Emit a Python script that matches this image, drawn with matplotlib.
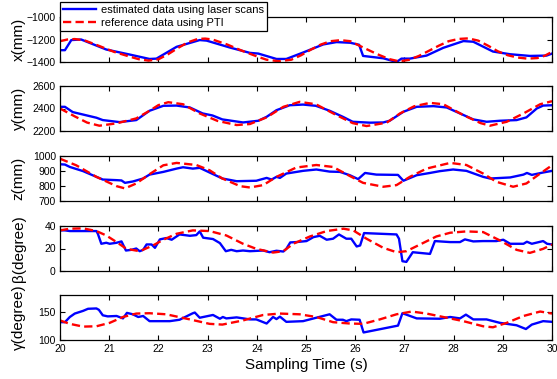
import matplotlib
matplotlib.use("Agg")
import matplotlib.pyplot as plt

plt.rcParams["font.family"] = ["Liberation Sans", "DejaVu Sans"]

# x position (mm)
t_x_est = [20.0, 20.1, 20.23, 20.43, 20.94, 21.42, 21.82, 21.96, 22.37, 22.84, 22.98, 23.45,
           23.86, 24.03, 24.4, 24.6, 24.94, 25.35, 25.62, 25.9, 26.08, 26.16, 26.57, 26.84,
           26.94, 27.11, 27.45, 27.79, 28.2, 28.4, 28.8, 29.15, 29.55, 29.89, 30.0]
x_est = [-1295, -1295, -1205, -1200, -1289, -1334, -1373, -1370, -1265, -1205, -1210, -1271,
         -1319, -1325, -1373, -1373, -1316, -1244, -1223, -1229, -1247, -1346, -1367, -1400,
         -1370, -1370, -1343, -1274, -1214, -1220, -1307, -1331, -1346, -1343, -1325]
t_x_ref = [20.0, 20.15, 20.3, 20.5, 20.8, 21.1, 21.4, 21.6, 21.8, 22.0, 22.2, 22.4, 22.6, 22.8,
           22.95, 23.1, 23.4, 23.7, 24.0, 24.2, 24.45, 24.7, 24.9, 25.1, 25.3, 25.5, 25.7, 25.9,
           26.1, 26.3, 26.5, 26.7, 26.9, 27.1, 27.3, 27.5, 27.7, 27.9, 28.1, 28.3, 28.5, 28.7,
           28.9, 29.1, 29.3, 29.5, 29.7, 29.85, 30.0]
x_ref = [-1215, -1200, -1196, -1208, -1258, -1310, -1350, -1375, -1388, -1376, -1330, -1275,
         -1225, -1195, -1192, -1200, -1245, -1300, -1350, -1380, -1393, -1380, -1340, -1290,
         -1245, -1215, -1206, -1215, -1258, -1300, -1340, -1375, -1395, -1380, -1345, -1300,
         -1255, -1215, -1195, -1190, -1210, -1255, -1305, -1340, -1360, -1370, -1365, -1345, -1310]

# y position (mm)
t_y_est = [20.0, 20.1, 20.26, 20.74, 20.87, 21.21, 21.55, 21.82, 22.1, 22.37, 22.64, 22.9, 23.1,
           23.3, 23.72, 24.03, 24.2, 24.4, 24.67, 24.94, 25.2, 25.48, 25.75, 25.95, 26.3, 26.57,
           26.7, 26.98, 27.25, 27.59, 27.86, 28.13, 28.4, 28.67, 28.94, 29.28, 29.48, 29.69,
           29.82, 30.0]
y_est = [2415, 2415, 2368, 2318, 2297, 2279, 2297, 2380, 2424, 2426, 2409, 2356, 2338, 2303,
         2276, 2291, 2326, 2385, 2429, 2435, 2424, 2380, 2326, 2282, 2274, 2276, 2291, 2371,
         2415, 2421, 2409, 2356, 2303, 2282, 2291, 2297, 2321, 2400, 2426, 2429]
t_y_ref = [20.0, 20.3, 20.55, 20.8, 21.15, 21.55, 21.82, 22.0, 22.2, 22.5, 22.84, 23.2, 23.59,
           23.86, 24.2, 24.54, 24.87, 25.2, 25.62, 25.95, 26.23, 26.64, 26.91, 27.2, 27.52,
           27.79, 28.2, 28.55, 28.74, 29.08, 29.42, 29.76, 30.0]
y_ref = [2400, 2330, 2275, 2247, 2268, 2312, 2380, 2430, 2456, 2438, 2356, 2290, 2253,
         2262, 2321, 2415, 2459, 2438, 2341, 2270, 2244, 2274, 2356, 2420, 2450, 2438,
         2341, 2270, 2247, 2282, 2356, 2438, 2465]

# z position (mm)
t_z_est = [20.0, 20.1, 20.2, 20.47, 20.74, 20.87, 21.15, 21.25, 21.32, 21.48, 21.69, 21.82,
           22.1, 22.37, 22.5, 22.7, 22.84, 23.04, 23.3, 23.59, 23.99, 24.2, 24.3, 24.4, 24.47,
           24.6, 24.94, 25.21, 25.48, 25.69, 25.89, 26.06, 26.2, 26.43, 26.87, 26.98, 27.25,
           27.52, 27.72, 27.99, 28.26, 28.6, 28.74, 29.15, 29.42, 29.49, 29.59, 29.82, 30.0]
z_est = [945, 943, 927, 899, 861, 843, 839, 837, 821, 830, 850, 876,
         894, 916, 925, 916, 921, 890, 850, 832, 835, 854, 843, 861, 854,
         883, 901, 910, 896, 894, 872, 846, 887, 876, 874, 835, 872,
         887, 899, 910, 901, 861, 850, 857, 876, 887, 874, 890, 901]
t_z_ref = [20.0, 20.33, 20.74, 21.15, 21.32, 21.55, 21.82, 22.1, 22.37, 22.77, 23.04, 23.3,
           23.66, 23.86, 24.13, 24.4, 24.8, 25.21, 25.55, 25.9, 26.16, 26.57, 26.84, 27.11,
           27.45, 27.93, 28.26, 28.6, 28.87, 29.21, 29.48, 29.76, 30.0]
z_ref = [982, 938, 861, 799, 784, 817, 879, 938, 954, 940, 905, 850,
         799, 790, 806, 861, 923, 940, 927, 865, 821, 795, 806, 861,
         916, 954, 940, 883, 828, 795, 817, 883, 938]

# beta (degree)
t_b_est = [20.0, 20.1, 20.2, 20.74, 20.77, 20.84, 20.94, 21.01, 21.15, 21.25, 21.34, 21.45,
           21.55, 21.62, 21.69, 21.76, 21.86, 21.93, 22.03, 22.16, 22.27, 22.43, 22.64, 22.77,
           22.84, 22.91, 23.11, 23.25, 23.37, 23.48, 23.59, 23.72, 23.86, 24.13, 24.26, 24.4,
           24.54, 24.6, 24.68, 24.8, 25.01, 25.15, 25.28, 25.42, 25.55, 25.67, 25.82, 25.92,
           26.03, 26.1, 26.18, 26.84, 26.89, 26.96, 27.04, 27.17, 27.38, 27.52, 27.62, 27.93,
           28.13, 28.23, 28.4, 28.6, 28.87, 29.01, 29.15, 29.42, 29.49, 29.59, 29.82, 29.9, 30.0]
b_est = [36.1, 36.1, 35.5, 35.5, 33.0, 24.2, 25.1, 24.2, 25.1, 26.3, 18.2, 18.8,
         20.0, 17.6, 18.8, 23.6, 23.6, 20.6, 28.1, 29.3, 27.8, 32.5, 31.3, 31.9,
         35.2, 29.6, 28.4, 24.8, 17.6, 18.8, 17.6, 18.2, 17.6, 18.2, 16.7, 18.0,
         17.3, 19.7, 25.4, 25.7, 26.6, 30.1, 31.3, 27.8, 28.7, 32.5, 28.7, 28.7,
         21.8, 22.7, 33.7, 32.5, 28.7, 8.7, 8.1, 16.7, 15.8, 15.2, 26.6, 25.7,
         25.7, 28.1, 26.3, 26.6, 26.6, 27.8, 24.2, 24.2, 26.0, 24.2, 26.6, 24.2, 23.6]
t_b_ref = [20.0, 20.2, 20.47, 20.74, 20.94, 21.15, 21.35, 21.62, 21.89, 22.1, 22.37, 22.7,
           23.04, 23.38, 23.72, 23.99, 24.33, 24.54, 24.74, 25.08, 25.42, 25.76, 25.96, 26.23,
           26.57, 26.84, 27.04, 27.32, 27.65, 27.93, 28.26, 28.6, 28.94, 29.28, 29.55, 29.82, 30.0]
b_ref = [36.1, 37.6, 37.9, 35.5, 31.6, 25.7, 19.7, 17.6, 22.7, 27.8, 33.1, 36.1,
         35.5, 31.6, 24.2, 19.7, 16.4, 17.6, 24.2, 30.7, 35.5, 37.6, 36.1, 28.7,
         20.6, 16.7, 17.6, 23.6, 30.7, 34.0, 35.2, 34.6, 27.2, 18.8, 16.1, 19.7, 23.6]

# gamma (degree)
t_g_est = [20.0, 20.1, 20.2, 20.3, 20.47, 20.57, 20.74, 20.79, 20.87, 20.97, 21.15, 21.28,
           21.36, 21.48, 21.59, 21.69, 21.82, 22.23, 22.43, 22.7, 22.74, 22.84, 23.11, 23.25,
           23.31, 23.38, 23.59, 23.86, 23.99, 24.2, 24.33, 24.4, 24.47, 24.6, 24.94, 25.21,
           25.48, 25.62, 25.75, 25.82, 25.92, 26.09, 26.17, 26.87, 26.96, 27.25, 27.72, 27.93,
           28.13, 28.25, 28.4, 28.67, 28.94, 29.28, 29.47, 29.59, 29.82, 30.0]
g_est = [131.7, 131.7, 140.9, 147.0, 151.8, 155.5, 156.1, 153.7, 143.9, 142.0, 142.7, 138.4,
         148.2, 145.7, 140.9, 142.7, 133.5, 133.5, 136.0, 147.6, 148.8, 139.6, 144.5, 137.8,
         140.9, 138.4, 140.2, 136.6, 136.6, 129.3, 140.9, 137.2, 141.5, 132.3, 133.5, 139.6,
         145.7, 136.0, 136.0, 133.5, 136.6, 136.0, 113.4, 125.6, 147.6, 138.4, 137.8, 140.9,
         138.4, 145.1, 136.6, 136.6, 130.5, 126.2, 119.5, 127.4, 133.5, 132.3]
t_g_ref = [20.0, 20.2, 20.47, 20.74, 21.01, 21.28, 21.55, 21.82, 22.16, 22.64, 23.04, 23.3,
           23.72, 24.13, 24.47, 24.87, 25.21, 25.55, 25.89, 26.16, 26.5, 26.84, 27.15, 27.45,
           27.79, 28.2, 28.6, 28.8, 29.08, 29.42, 29.76, 30.0]
g_ref = [134.8, 128.7, 123.8, 124.4, 130.5, 140.9, 147.0, 147.6, 145.7, 136.6, 128.7, 127.4,
         134.8, 144.5, 147.0, 145.7, 140.9, 131.7, 129.3, 128.7, 136.6, 145.7, 150.6, 147.0,
         140.9, 133.5, 124.4, 122.6, 130.5, 142.7, 150.6, 147.0]

panels = [
    (t_x_est, x_est, t_x_ref, x_ref, "x(mm)", (-1400, -1000), [-1400, -1200, -1000]),
    (t_y_est, y_est, t_y_ref, y_ref, "y(mm)", (2200, 2600), [2200, 2400, 2600]),
    (t_z_est, z_est, t_z_ref, z_ref, "z(mm)", (700, 1000), [700, 800, 900, 1000]),
    (t_b_est, b_est, t_b_ref, b_ref, "\u03b2(degree)", (0, 40), [0, 20, 40]),
    (t_g_est, g_est, t_g_ref, g_ref, "\u03b3(degree)", (100, 180), [100, 150]),
]

fig = plt.figure(figsize=(5.57, 3.79), dpi=100)
left, width, height = 60 / 557, 492 / 557, 45 / 379
bottoms_px = [62, 131, 201, 271, 340]

axes = []
for (te, ve, tr, vr, lab, ylim, yticks), bpx in zip(panels, bottoms_px):
    ax = fig.add_axes([left, 1 - bpx / 379, width, height])
    ax.plot(te, ve, color="blue", lw=1.7, label="estimated data using laser scans")
    ax.plot(tr, vr, color="red", lw=1.7, ls="--", dashes=(3.5, 1.8),
            label="reference data using PTI")
    ax.set_xlim(20, 30)
    ax.set_ylim(*ylim)
    ax.set_yticks(yticks)
    ax.set_xticks(range(20, 31))
    ax.tick_params(direction="in", top=True, right=True, length=3.5, width=0.8,
                   labelsize=7.5, pad=3)
    for s in ax.spines.values():
        s.set_linewidth(0.9)
    ax.set_ylabel(lab, fontsize=11)
    ax.yaxis.set_label_coords(-0.07, 0.5)
    axes.append(ax)

for ax in axes[:-1]:
    ax.tick_params(labelbottom=False)
axes[-1].set_xlabel("Sampling Time (s)", fontsize=11, labelpad=3)

leg = axes[0].legend(loc="upper left", bbox_to_anchor=(60 / 557, 1 - 2 / 379),
                     bbox_transform=fig.transFigure, borderaxespad=0, fontsize=8,
                     fancybox=False, framealpha=1, edgecolor="black",
                     handlelength=2.9, borderpad=0.3, labelspacing=0.25,
                     handletextpad=0.5)
leg.get_frame().set_linewidth(0.9)

fig.savefig("out.png", dpi=100)
